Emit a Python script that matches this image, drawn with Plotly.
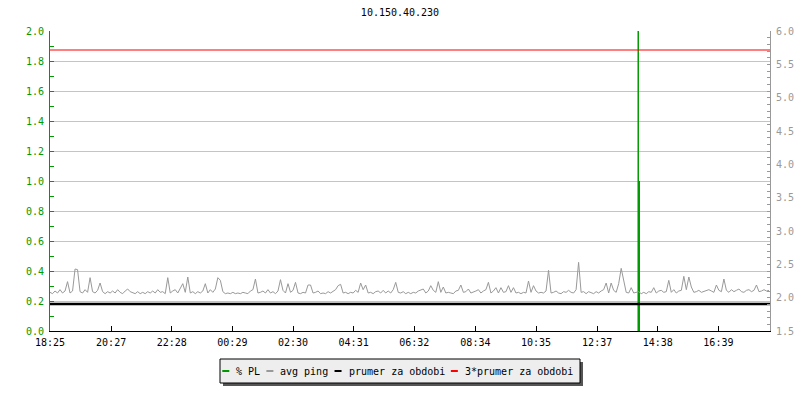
import pandas as pd
import plotly.graph_objects as go

title = "10.150.40.230"
start_time = "2024-01-01 18:25"
end_time = "2024-01-02 18:22"

tick_labels = ["18:25", "20:27", "22:28", "00:29", "02:30", "04:31",
               "06:32", "08:34", "10:35", "12:37", "14:38", "16:39"]

series_names = ["% PL", "avg ping", "prumer za obdobi", "3*prumer za obdobi"]

# avg ping (right axis), 5-minute samples from 18:25
avg_ping = [
    2.08, 2.06, 2.10, 2.07, 2.12, 2.07, 2.10, 2.24, 2.07, 2.10, 2.43, 2.42,
    2.09, 2.07, 2.12, 2.08, 2.30, 2.09, 2.07, 2.11, 2.22, 2.09, 2.06, 2.09,
    2.07, 2.10, 2.07, 2.12, 2.08, 2.06, 2.10, 2.13, 2.09, 2.07, 2.06, 2.09,
    2.06, 2.08, 2.06, 2.09, 2.07, 2.10, 2.07, 2.12, 2.08, 2.09, 2.06, 2.30,
    2.07, 2.10, 2.12, 2.07, 2.13, 2.21, 2.08, 2.31, 2.07, 2.09, 2.06, 2.09,
    2.07, 2.10, 2.21, 2.07, 2.12, 2.08, 2.13, 2.30, 2.26, 2.09, 2.06, 2.07,
    2.06, 2.08, 2.06, 2.07, 2.06, 2.08, 2.07, 2.06, 2.10, 2.12, 2.28, 2.07,
    2.08, 2.10, 2.07, 2.12, 2.07, 2.09, 2.06, 2.10, 2.27, 2.11, 2.07, 2.21,
    2.08, 2.11, 2.23, 2.07, 2.06, 2.08, 2.07, 2.19, 2.19, 2.07, 2.08, 2.10,
    2.06, 2.07, 2.06, 2.09, 2.07, 2.10, 2.12, 2.18, 2.20, 2.07, 2.08, 2.06,
    2.08, 2.07, 2.11, 2.08, 2.22, 2.12, 2.19, 2.07, 2.08, 2.06, 2.09, 2.10,
    2.07, 2.11, 2.07, 2.10, 2.07, 2.12, 2.23, 2.08, 2.07, 2.09, 2.06, 2.08,
    2.06, 2.08, 2.07, 2.10, 2.11, 2.13, 2.07, 2.10, 2.18, 2.11, 2.08, 2.24,
    2.08, 2.16, 2.07, 2.08, 2.07, 2.06, 2.10, 2.11, 2.19, 2.08, 2.09, 2.13,
    2.07, 2.08, 2.10, 2.12, 2.07, 2.10, 2.12, 2.23, 2.07, 2.10, 2.15, 2.07,
    2.15, 2.08, 2.09, 2.18, 2.08, 2.15, 2.07, 2.08, 2.06, 2.08, 2.07, 2.25,
    2.08, 2.18, 2.10, 2.07, 2.08, 2.07, 2.10, 2.41, 2.07, 2.08, 2.10, 2.07,
    2.06, 2.09, 2.08, 2.11, 2.08, 2.07, 2.12, 2.53, 2.08, 2.09, 2.06, 2.09,
    2.07, 2.06, 2.09, 2.07, 2.10, 2.12, 2.22, 2.07, 2.22, 2.11, 2.08, 2.21,
    2.44, 2.28, 2.08, 2.07, 2.15, 2.07, 2.08, 2.09, 2.06, 2.08, 2.06, 2.09,
    2.08, 2.15, 2.07, 2.10, 2.11, 2.08, 2.09, 2.26, 2.08, 2.12, 2.07, 2.10,
    2.11, 2.32, 2.12, 2.31, 2.16, 2.08, 2.09, 2.11, 2.08, 2.09, 2.10, 2.12,
    2.10, 2.08, 2.19, 2.11, 2.09, 2.28, 2.11, 2.08, 2.12, 2.09, 2.11, 2.13,
    2.09, 2.08, 2.11, 2.12, 2.09, 2.11, 2.19, 2.09, 2.10, 2.12, 2.10, 2.11,
]

# % packet loss (left axis) - non-zero samples only
pl_times = ["2024-01-02 13:59", "2024-01-02 14:01"]
pl_values = [2.0, 1.0]

prumer = 1.905          # prumer za obdobi (right axis)
triple_prumer = 3 * prumer

GREEN = "#009900"
GRAY = "#999999"
GRID = "#c4c4c4"
RED = "#ff0000"
FONT = "DejaVu Sans Mono"

# plot area in pixels
PL_L, PL_R, PL_T, PL_B = 50, 770, 31, 331


def px_x(x):
    return (x - PL_L) / (PL_R - PL_L)


def px_y(y):
    return (PL_B - y) / (PL_B - PL_T)


times = pd.date_range(start_time, periods=len(avg_ping), freq="5min")

# tick positions from labels (roll date over at midnight)
tick_vals = []
day = pd.Timestamp(start_time).normalize()
prev = None
for lab in tick_labels:
    h, m = map(int, lab.split(":"))
    if prev is not None and (h, m) < prev:
        day = day + pd.Timedelta(days=1)
    prev = (h, m)
    tick_vals.append(day + pd.Timedelta(hours=h, minutes=m))

fig = go.Figure()

# % PL as vertical impulses
pl_x, pl_y = [], []
for t, v in zip(pl_times, pl_values):
    pl_x += [t, t, None]
    pl_y += [0, v, None]
fig.add_trace(go.Scatter(x=pl_x, y=pl_y, mode="lines", name=series_names[0],
                         line=dict(color=GREEN, width=1.5), yaxis="y"))

fig.add_trace(go.Scatter(x=times, y=avg_ping, mode="lines", name=series_names[1],
                         line=dict(color=GRAY, width=1), yaxis="y2"))

fig.add_trace(go.Scatter(x=[start_time, end_time], y=[prumer, prumer], mode="lines",
                         name=series_names[2],
                         line=dict(color="black", width=2.5), yaxis="y2"))

fig.add_trace(go.Scatter(x=[start_time, end_time], y=[triple_prumer, triple_prumer],
                         mode="lines", name=series_names[3],
                         line=dict(color=RED, width=1.2), yaxis="y2"))

# ---- legend box (rrdtool style) built from the traces ----
BOX_L, BOX_R, BOX_T, BOX_B = 220, 580, 359, 383
SH = 3
fig.add_shape(type="rect", xref="paper", yref="paper",
              x0=px_x(BOX_L + SH), x1=px_x(BOX_R + SH),
              y0=px_y(BOX_B + SH), y1=px_y(BOX_T + SH),
              fillcolor="#555555", line=dict(width=0), layer="above")
fig.add_shape(type="rect", xref="paper", yref="paper",
              x0=px_x(BOX_L), x1=px_x(BOX_R), y0=px_y(BOX_B), y1=px_y(BOX_T),
              fillcolor="#eeeeee", line=dict(color="black", width=1), layer="above")
CHAR_W = 6.02
item_y = 371
sx = 222.3
for tr in fig.data:
    fig.add_shape(type="line", xref="paper", yref="paper",
                  x0=px_x(sx), x1=px_x(sx + 7), y0=px_y(item_y), y1=px_y(item_y),
                  line=dict(color=tr.line.color, width=2), layer="above")
    tx = sx + 13
    fig.add_annotation(text=tr.name, xref="paper", yref="paper",
                       x=px_x(tx), y=px_y(item_y), xanchor="left", yanchor="middle",
                       showarrow=False, borderpad=0,
                       font=dict(family=FONT, size=10, color="black"))
    sx = tx + len(tr.name) * CHAR_W + 7

fig.update_layout(
    width=800, height=400,
    margin=dict(l=PL_L, r=800 - PL_R, t=PL_T, b=400 - PL_B, autoexpand=False),
    paper_bgcolor="white", plot_bgcolor="white",
    font=dict(family=FONT, size=10, color="black"),
    title=dict(text=title, x=0.5, xanchor="center", y=1 - 12 / 400, yanchor="middle",
               font=dict(family=FONT, size=10, color="black")),
    showlegend=False,
    xaxis=dict(type="date", range=[start_time, end_time], automargin=False,
               tickmode="array", tickvals=tick_vals, ticktext=tick_labels,
               showgrid=False, zeroline=False,
               showline=True, linecolor="black", linewidth=1,
               ticks="inside", ticklen=5, tickcolor="black",
               tickfont=dict(family=FONT, size=10, color="black"),
               ticklabelstandoff=2),
    yaxis=dict(range=[0, 2.0], dtick=0.2, tickformat=".1f", automargin=False,
               showgrid=True, gridcolor=GRID, gridwidth=1, zeroline=False,
               showline=True, linecolor=GREEN, linewidth=1,
               ticks="inside", ticklen=4, tickcolor=GREEN,
               tickfont=dict(family=FONT, size=10, color=GREEN),
               ticklabelstandoff=3,
               minor=dict(dtick=0.1, ticks="inside", ticklen=4, tickcolor=GREEN,
                          showgrid=False)),
    yaxis2=dict(range=[1.5, 6.0], dtick=0.5, tickformat=".1f", automargin=False,
                overlaying="y", side="right",
                showgrid=False, zeroline=False,
                showline=True, linecolor=GRAY, linewidth=1,
                ticks="inside", ticklen=3, tickcolor=GRAY,
                tickfont=dict(family=FONT, size=10, color=GRAY),
                ticklabelstandoff=3,
                minor=dict(dtick=0.1, ticks="inside", ticklen=3, tickcolor=GRAY,
                           showgrid=False)),
)

fig.write_html("out.html", config={"displayModeBar": False},
               post_script="document.body.style.margin='0';")
